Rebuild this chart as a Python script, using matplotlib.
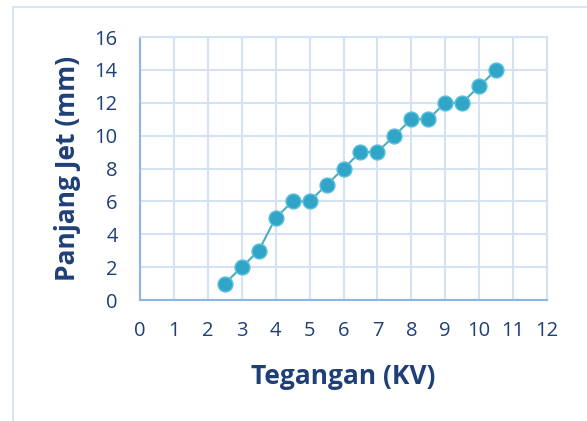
import matplotlib
matplotlib.use("Agg")
import matplotlib.pyplot as plt
from matplotlib.patches import Rectangle

# data
tegangan = [2.5, 3, 3.5, 4, 4.5, 5, 5.5, 6, 6.5, 7, 7.5, 8, 8.5, 9, 9.5, 10, 10.5]
panjang_jet = [1, 2, 3, 5, 6, 6, 7, 8, 9, 9, 10, 11, 11, 12, 12, 13, 14]
x_ticks = list(range(0, 13))
y_ticks = list(range(0, 17, 2))

TEXT = "#1F3F77"
GRID = "#D5E2F4"
AXIS = "#8EB4E3"
LINE = "#4BACC6"
MARK = "#31A5C7"

plt.rcParams['font.family'] = ['Open Sans', 'DejaVu Sans']

fig = plt.figure(figsize=(5.87, 4.21), dpi=100)
fig.patches.append(Rectangle((13 / 587, -0.1), 1.0, 1 - 7 / 421 + 0.1,
                             transform=fig.transFigure, fill=False,
                             edgecolor="#D3E0F1", linewidth=1.2))
ax = fig.add_axes([140 / 587, 1 - 300 / 421, 407 / 587, 263 / 421])

ax.plot(tegangan, panjang_jet, color=LINE, linewidth=1.5, zorder=3)
ax.scatter(tegangan, panjang_jet, s=115, color=MARK, edgecolor="#5CC0DB",
           linewidth=1.0, zorder=4)

ax.set_xlim(0, 12)
ax.set_ylim(0, 16)
ax.set_xticks(x_ticks)
ax.set_yticks(y_ticks)
ax.grid(True, color=GRID, linewidth=1.5, zorder=0)
ax.set_axisbelow(True)

for side in ["top", "right"]:
    ax.spines[side].set_color(GRID)
    ax.spines[side].set_linewidth(1.5)
for side in ["left", "bottom"]:
    ax.spines[side].set_color(AXIS)
    ax.spines[side].set_linewidth(1.5)

ax.tick_params(axis="x", length=0, labelsize=14.5, colors=TEXT, pad=15)
ax.tick_params(axis="y", length=0, labelsize=14.5, colors=TEXT, pad=16)

ax.set_xlabel("Tegangan (KV)", fontsize=19, fontweight="bold", color=TEXT, labelpad=16)
ax.set_ylabel("Panjang Jet (mm)", fontsize=19, fontweight="bold", color=TEXT, labelpad=10)

fig.savefig("out.png", dpi=100)
